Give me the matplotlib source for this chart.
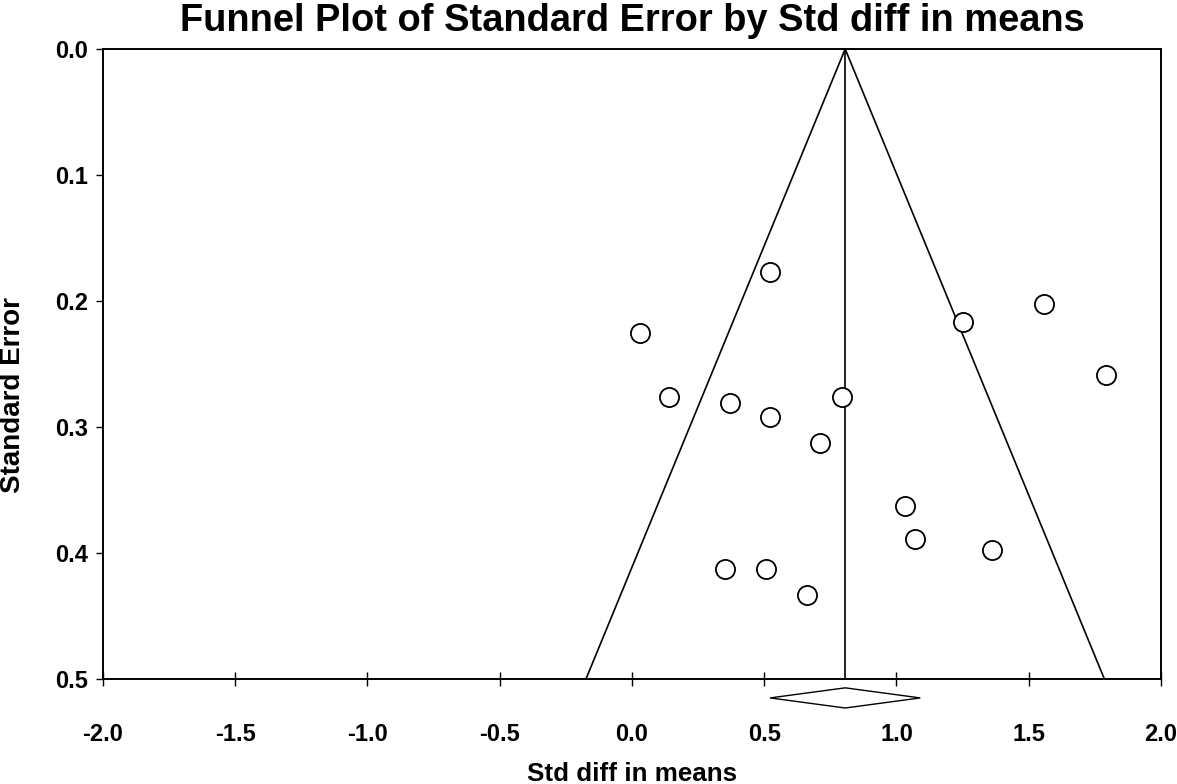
import matplotlib
matplotlib.use("Agg")
import matplotlib.pyplot as plt
import numpy as np

plt.rcParams['font.family'] = ['Liberation Sans', 'DejaVu Sans']
plt.rcParams['font.weight'] = 'bold'

# study effects (std diff in means) and their standard errors
effect = [0.522, 0.030, 1.558, 1.251, 1.792, 0.140, 0.370, 0.522,
          0.794, 0.711, 1.032, 1.070, 1.361, 0.352, 0.507, 0.662]
std_err = [0.177, 0.225, 0.202, 0.217, 0.259, 0.276, 0.281, 0.292,
           0.276, 0.313, 0.363, 0.389, 0.398, 0.413, 0.413, 0.433]

# pooled estimate and its confidence interval
pooled = 0.806
ci_low, ci_high = 0.522, 1.090

x_ticks = [-2.0, -1.5, -1.0, -0.5, 0.0, 0.5, 1.0, 1.5, 2.0]
y_ticks = [0.0, 0.1, 0.2, 0.3, 0.4, 0.5]

fig = plt.figure(figsize=(11.77, 7.84), dpi=100)
ax = fig.add_axes([0.0875, 0.1339, 0.8989, 0.8036])

# funnel (pseudo 95% limits)
se_max = 0.5
ax.plot([pooled - 1.96 * se_max, pooled, pooled + 1.96 * se_max],
        [se_max, 0.0, se_max], color='black', lw=1.2)
ax.plot([pooled, pooled], [0.0, se_max], color='black', lw=1.2)

ax.scatter(effect, std_err, s=190, facecolors='white', edgecolors='black',
           linewidths=1.3, zorder=3)

# diamond for the pooled estimate, drawn below the axis
dy = 0.008
yd = 0.515
ax.fill([ci_low, pooled, ci_high, pooled], [yd, yd - dy, yd, yd + dy],
        facecolor='white', edgecolor='black', lw=1.0, clip_on=False, zorder=4)

ax.set_xlim(-2.0, 2.0)
ax.set_ylim(0.5, 0.0)
ax.set_xticks(x_ticks)
ax.set_xticklabels(['%.1f' % v for v in x_ticks])
ax.set_yticks(y_ticks)
ax.set_yticklabels(['%.1f' % v for v in y_ticks])

ax.tick_params(axis='x', direction='inout', length=10, width=1.0,
               labelsize=17, pad=27)
ax.tick_params(axis='y', direction='out', length=5, width=1.0,
               labelsize=17, pad=6)
for s in ax.spines.values():
    s.set_linewidth(1.4)

ax.set_xlabel('Std diff in means', fontsize=18.7, fontweight='bold')
ax.xaxis.set_label_coords(0.5, -0.150)
ax.xaxis.label.set_va('center')
ax.set_ylabel('Standard Error', fontsize=20, fontweight='bold')
ax.yaxis.set_label_coords(-0.085, 0.451)
ax.yaxis.label.set_va('center')
ax.set_title('Funnel Plot of Standard Error by Std diff in means',
             fontsize=27.4, fontweight='bold', pad=13)

fig.savefig('out.png', dpi=100)
